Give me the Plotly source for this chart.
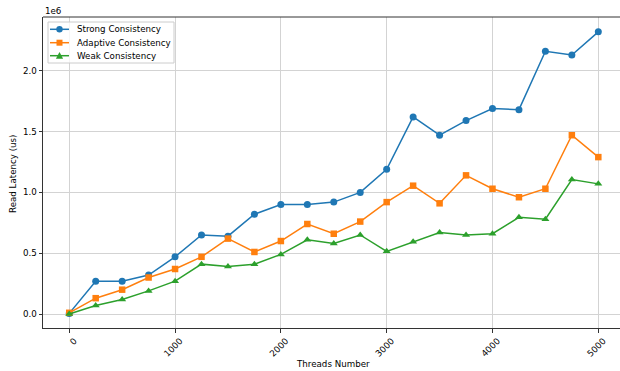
import plotly.graph_objects as go

# Thread counts on the x axis
threads = [0, 250, 500, 750, 1000, 1250, 1500, 1750, 2000, 2250, 2500,
           2750, 3000, 3250, 3500, 3750, 4000, 4250, 4500, 4750, 5000]

# Read latency (us) per consistency level
strong = [0.005e6, 0.27e6, 0.27e6, 0.32e6, 0.47e6, 0.65e6, 0.64e6, 0.82e6, 0.90e6, 0.90e6, 0.92e6,
          1.00e6, 1.19e6, 1.62e6, 1.47e6, 1.59e6, 1.69e6, 1.68e6, 2.16e6, 2.13e6, 2.32e6]
adaptive = [0.01e6, 0.13e6, 0.20e6, 0.30e6, 0.37e6, 0.47e6, 0.62e6, 0.51e6, 0.60e6, 0.74e6, 0.66e6,
            0.76e6, 0.92e6, 1.055e6, 0.91e6, 1.14e6, 1.03e6, 0.96e6, 1.03e6, 1.47e6, 1.29e6]
weak = [0.0, 0.07e6, 0.12e6, 0.19e6, 0.27e6, 0.41e6, 0.39e6, 0.41e6, 0.49e6, 0.61e6, 0.58e6,
        0.65e6, 0.515e6, 0.595e6, 0.67e6, 0.65e6, 0.66e6, 0.795e6, 0.78e6, 1.105e6, 1.07e6]

series_names = ["Strong Consistency", "Adaptive Consistency", "Weak Consistency"]
series_colors = ["#1f77b4", "#ff7f0e", "#2ca02c"]
series_symbols = ["circle", "square", "triangle-up"]

x_ticks = [0, 1000, 2000, 3000, 4000, 5000]
y_ticks = [0, 0.5e6, 1.0e6, 1.5e6, 2.0e6]
y_tick_text = ["0.0", "0.5", "1.0", "1.5", "2.0"]

W, H = 620, 371
L, R, T, B = 43, 0, 17, 43
PW, PH = W - L - R, H - T - B
FONT = "DejaVu Sans"
FS = 8.7


def px_x(px):
    return (px - L) / PW


def px_y(py):
    return (H - B - py) / PH


fig = go.Figure()
for name, ys, col, sym in zip(series_names, [strong, adaptive, weak], series_colors, series_symbols):
    fig.add_trace(go.Scatter(
        x=threads, y=ys, name=name, mode="lines+markers",
        line=dict(color=col, width=1.5),
        marker=dict(symbol=sym, size=7 if sym != "square" else 6.5, color=col, line=dict(width=0)),
        showlegend=False,
    ))

shapes = []
annotations = []

# Top frame line (no right frame line in view)
shapes.append(dict(type="line", xref="paper", yref="paper", x0=0, x1=1, y0=1, y1=1,
                   line=dict(color="#333333", width=1), layer="above"))

# Legend box
shapes.append(dict(type="rect", xref="paper", yref="paper",
                   x0=px_x(48), x1=px_x(174), y0=px_y(63), y1=px_y(22),
                   fillcolor="rgba(255,255,255,0.8)", line=dict(color="#cccccc", width=1),
                   layer="above"))
rows = [29.3, 42.7, 55.7]
for py, name, col, sym in zip(rows, series_names, series_colors, series_symbols):
    shapes.append(dict(type="line", xref="paper", yref="paper",
                       x0=px_x(50), x1=px_x(69), y0=px_y(py), y1=px_y(py),
                       line=dict(color=col, width=1.5), layer="above"))
    common = dict(xref="paper", yref="paper", xsizemode="pixel", ysizemode="pixel",
                  xanchor=px_x(59.5), yanchor=px_y(py), fillcolor=col,
                  line=dict(width=0), layer="above")
    if sym == "circle":
        shapes.append(dict(type="circle", x0=-3.2, x1=3.2, y0=-3.2, y1=3.2, **common))
    elif sym == "square":
        shapes.append(dict(type="rect", x0=-3, x1=3, y0=-3, y1=3, **common))
    else:
        shapes.append(dict(type="path", path="M-3.6,-3 L3.6,-3 L0,3.6 Z", **common))
    annotations.append(dict(text=name, xref="paper", yref="paper", x=px_x(75), y=px_y(py),
                            xanchor="left", yanchor="middle", showarrow=False,
                            font=dict(family=FONT, size=FS, color="#000000")))

# Axis titles and offset label
annotations.append(dict(text="Threads Number", xref="paper", yref="paper",
                        x=px_x(333), y=px_y(364), xanchor="center", yanchor="middle",
                        showarrow=False, font=dict(family=FONT, size=FS, color="#000000")))
annotations.append(dict(text="Read Latency (us)", xref="paper", yref="paper",
                        x=px_x(13), y=px_y(174), xanchor="center", yanchor="middle",
                        textangle=-90, showarrow=False,
                        font=dict(family=FONT, size=FS, color="#000000")))
annotations.append(dict(text="1e6", xref="paper", yref="paper",
                        x=px_x(43), y=px_y(11), xanchor="left", yanchor="middle",
                        showarrow=False, font=dict(family=FONT, size=FS, color="#000000")))

fig.update_layout(
    width=W, height=H, autosize=False,
    margin=dict(l=L, r=R, t=T, b=B, pad=0),
    paper_bgcolor="white", plot_bgcolor="white",
    font=dict(family=FONT, size=FS, color="#000000"),
    shapes=shapes, annotations=annotations,
    showlegend=False,
)
fig.update_xaxes(
    range=[-248, 5205], tickvals=x_ticks, ticktext=[str(v) for v in x_ticks],
    tickangle=-45, ticks="outside", ticklen=3.5, tickwidth=1, tickcolor="#333333",
    ticklabelshift=5, ticklabelstandoff=0,
    showgrid=True, gridcolor="#d3d3d3", gridwidth=1,
    showline=True, linecolor="#333333", linewidth=1, mirror=False,
    zeroline=False, tickfont=dict(family=FONT, size=FS, color="#000000"),
)
fig.update_yaxes(
    range=[-0.1151e6, 2.442e6], tickvals=y_ticks, ticktext=y_tick_text,
    ticks="outside", ticklen=3.5, tickwidth=1, tickcolor="#333333",
    showgrid=True, gridcolor="#d3d3d3", gridwidth=1,
    showline=True, linecolor="#333333", linewidth=1, mirror=False,
    zeroline=False, tickfont=dict(family=FONT, size=FS, color="#000000"),
)

fig.write_html("out.html", config={"displayModeBar": False})
